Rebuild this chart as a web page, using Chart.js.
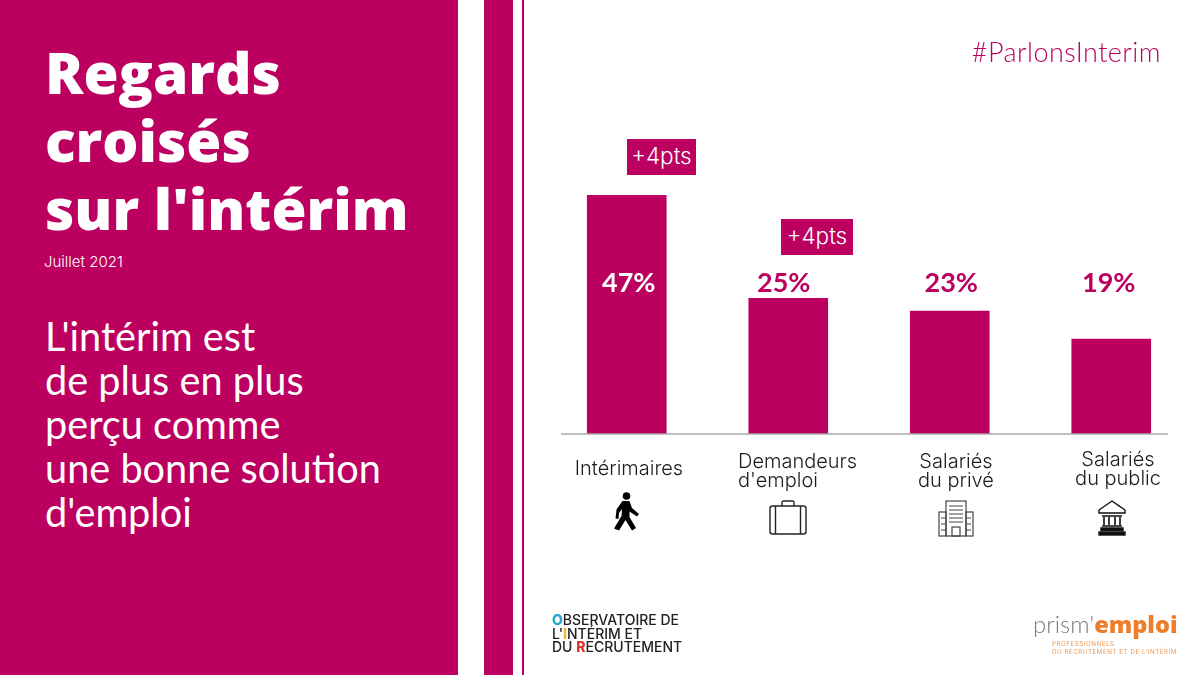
<!DOCTYPE html>
<html lang="fr">
<head>
<meta charset="utf-8">
<title>Regards croisés sur l'intérim</title>
<script src="https://cdn.jsdelivr.net/npm/chart.js@4"></script>
<style>
    html, body { margin: 0; padding: 0; background: #fff; }
    #page { position: relative; width: 1200px; height: 675px; overflow: hidden; background: #fff; }
    #page canvas { position: absolute; left: 0; top: 0; }
    .band { position: absolute; top: 0; height: 675px; background: #bb0060; }
    .txt { position: absolute; white-space: nowrap; }
    #title { left: 45px; top: 38px; color: #fff; font: 800 56.8px/68px "Open Sans", sans-serif; }
    #date { left: 44px; top: 253px; color: #fff; font: 300 15px/18px Inter, sans-serif; }
    #sub { left: 45px; top: 313.5px; color: #fff; font: 400 39.7px/44px Lato, sans-serif; }
    #tag { right: 39px; top: 37px; color: #bb0060; font: 300 27px/30px Lato, sans-serif; letter-spacing: .45px; }
    .delta { position: absolute; background: #bb0060; color: #fff; text-align: center; font: 300 22.5px/34px Inter, sans-serif; }
    .icon { position: absolute; }
    #obs { left: 552px; top: 613px; color: #222; font: 500 14px/13.5px Inter, sans-serif; }
    #prism { left: 1033px; top: 609px; font: 300 24px/30px Lato, sans-serif; color: #7a7a7a; }
    #prism b { color: #ee7d2b; font-weight: 900; font-family: "Open Sans", sans-serif; font-size: 23.5px; }
    #prismSub { left: 1052px; top: 640px; color: #ee9a55; font: 400 6.2px/7.5px Inter, sans-serif; letter-spacing: .55px; }
</style>
</head>
<body>
<div id="page">
    <canvas id="chart" width="1200" height="675"></canvas>

    <div class="band" style="left:0;width:458px"></div>
    <div class="band" style="left:484px;width:29px"></div>
    <div class="band" style="left:522px;width:2px"></div>

    <div class="txt" id="title">Regards<br>croisés<br>sur l'intérim</div>
    <div class="txt" id="date">Juillet 2021</div>
    <div class="txt" id="sub">L'intérim est<br>de plus en plus<br>perçu comme<br>une bonne solution<br>d'emploi</div>
    <div class="txt" id="tag">#ParlonsInterim</div>

    <div class="delta" style="left:627px;top:139px;width:69px;height:36px">+4pts</div>
    <div class="delta" style="left:781px;top:219px;width:72px;height:36px">+4pts</div>

    <!-- walking person -->
    <svg class="icon" style="left:608px;top:490px" width="36" height="42" viewBox="0 0 36 42">
        <circle cx="18.5" cy="6" r="3.8" fill="#000"/>
        <path d="M14.5 11 L21.5 11 L24 18 L31 24 L29 26.5 L21.5 21.5 L21.5 27 L28 38 L24 40.5 L17.5 30 L11 40.5 L6 38.5 L13.5 26 L14 19 L11 23 L10.5 29 L7.5 28.5 L8.5 19.5 Z" fill="#000"/>
    </svg>
    <!-- briefcase -->
    <svg class="icon" style="left:768px;top:500px" width="40" height="36" viewBox="0 0 40 36" fill="none" stroke="#222" stroke-width="1.4">
        <rect x="2" y="6" width="36" height="28" rx="2.5"/>
        <path d="M14 6 V2.5 Q14 1 15.5 1 H24.5 Q26 1 26 2.5 V6"/>
        <path d="M7.5 6 V34 M32.5 6 V34"/>
    </svg>
    <!-- office building -->
    <svg class="icon" style="left:938px;top:500px" width="36" height="37" viewBox="0 0 36 37" fill="none" stroke="#444" stroke-width="1.2">
        <rect x="8" y="1" width="20" height="35"/>
        <rect x="1" y="12" width="7" height="24"/>
        <rect x="28" y="12" width="7" height="24"/>
        <rect x="14" y="27" width="8" height="9"/>
        <path d="M11 6 H25 M11 10 H25 M11 14 H25 M11 18 H25 M11 22 H25 M3 18 H8 M3 24 H8 M3 30 H8 M28 18 H33 M28 24 H33 M28 30 H33"/>
    </svg>
    <!-- bank -->
    <svg class="icon" style="left:1097px;top:500px" width="30" height="36" viewBox="0 0 30 36" fill="none" stroke="#111" stroke-width="1.4">
        <path d="M15 1 L28 10 V13 H2 V10 Z"/>
        <path d="M5 16 H25 M7 17 V25 M12 17 V25 M18 17 V25 M23 17 V25 M5 26 H25" stroke-width="1.6"/>
        <rect x="4" y="28" width="22" height="2.5" fill="#111"/>
        <rect x="2" y="32" width="26" height="3" fill="#111"/>
    </svg>

    <div class="txt" id="obs"><span style="color:#2aa7cf;font-weight:800">O</span>BSERVATOIRE DE<br>L'<span style="color:#f2b632;font-weight:800">I</span>NTÉRIM ET<br>DU <span style="color:#e0342c;font-weight:800">R</span>ECRUTEMENT</div>
    <div class="txt" id="prism">prism'<b>emploi</b></div>
    <div class="txt" id="prismSub">PROFESSIONNELS<br>DU RECRUTEMENT ET DE L'INTÉRIM</div>
</div>

<script>
    const categories = [['Intérimaires'], ['Demandeurs', "d'emploi"], ['Salariés', 'du privé'], ['Salariés', 'du public']];
    // bar lengths as drawn in the picture, they are not quite in proportion to the printed figures
    const barValues = [47, 26.7, 24.2, 18.7];
    const printedValues = ['47%', '25%', '23%', '19%'];

    const MAGENTA = '#bb0060';

    // baseline, figures and category names
    const barLabels = {
        id: 'barLabels',
        afterDatasetsDraw(chart) {
            const ctx = chart.ctx;
            const x = chart.scales.x;
            const y = chart.scales.y;

            ctx.save();
            ctx.strokeStyle = '#a9a9a9';
            ctx.lineWidth = 1.5;
            ctx.beginPath();
            ctx.moveTo(561, y.getPixelForValue(0));
            ctx.lineTo(1168, y.getPixelForValue(0));
            ctx.stroke();

            // the figures sit a little off the bar centres
            const valueShift = [2, -4.5, 1.5, -2.5];
            ctx.textBaseline = 'middle';
            ctx.textAlign = 'center';
            ctx.font = '700 27px Lato, sans-serif';
            printedValues.forEach((label, i) => {
                ctx.fillStyle = i === 0 ? '#fff' : MAGENTA;
                ctx.fillText(label, x.getPixelForValue(i) + valueShift[i], 283);
            });

            const nameX = [629, 738, 956, 1118];
            const nameY = [469, 462, 462, 460];
            ctx.fillStyle = '#1c1c1c';
            ctx.font = '300 20px Inter, sans-serif';
            categories.forEach((lines, i) => {
                ctx.textAlign = i === 1 ? 'left' : 'center';
                lines.forEach((line, j) => {
                    ctx.fillText(line, nameX[i], nameY[i] + j * 19);
                });
            });
            ctx.restore();
        }
    };

    new Chart(document.getElementById('chart'), {
        type: 'bar',
        data: {
            labels: categories.map(c => c.join(' ')),
            datasets: [{
                data: barValues,
                backgroundColor: MAGENTA,
                barThickness: 79
            }]
        },
        options: {
            responsive: false,
            animation: false,
            layout: { padding: { left: 546, right: 8, top: 180, bottom: 241 } },
            plugins: { legend: { display: false }, tooltip: { enabled: false } },
            scales: {
                x: { display: false },
                y: { display: false, min: 0, max: 50 }
            }
        },
        plugins: [barLabels]
    });
</script>
</body>
</html>
